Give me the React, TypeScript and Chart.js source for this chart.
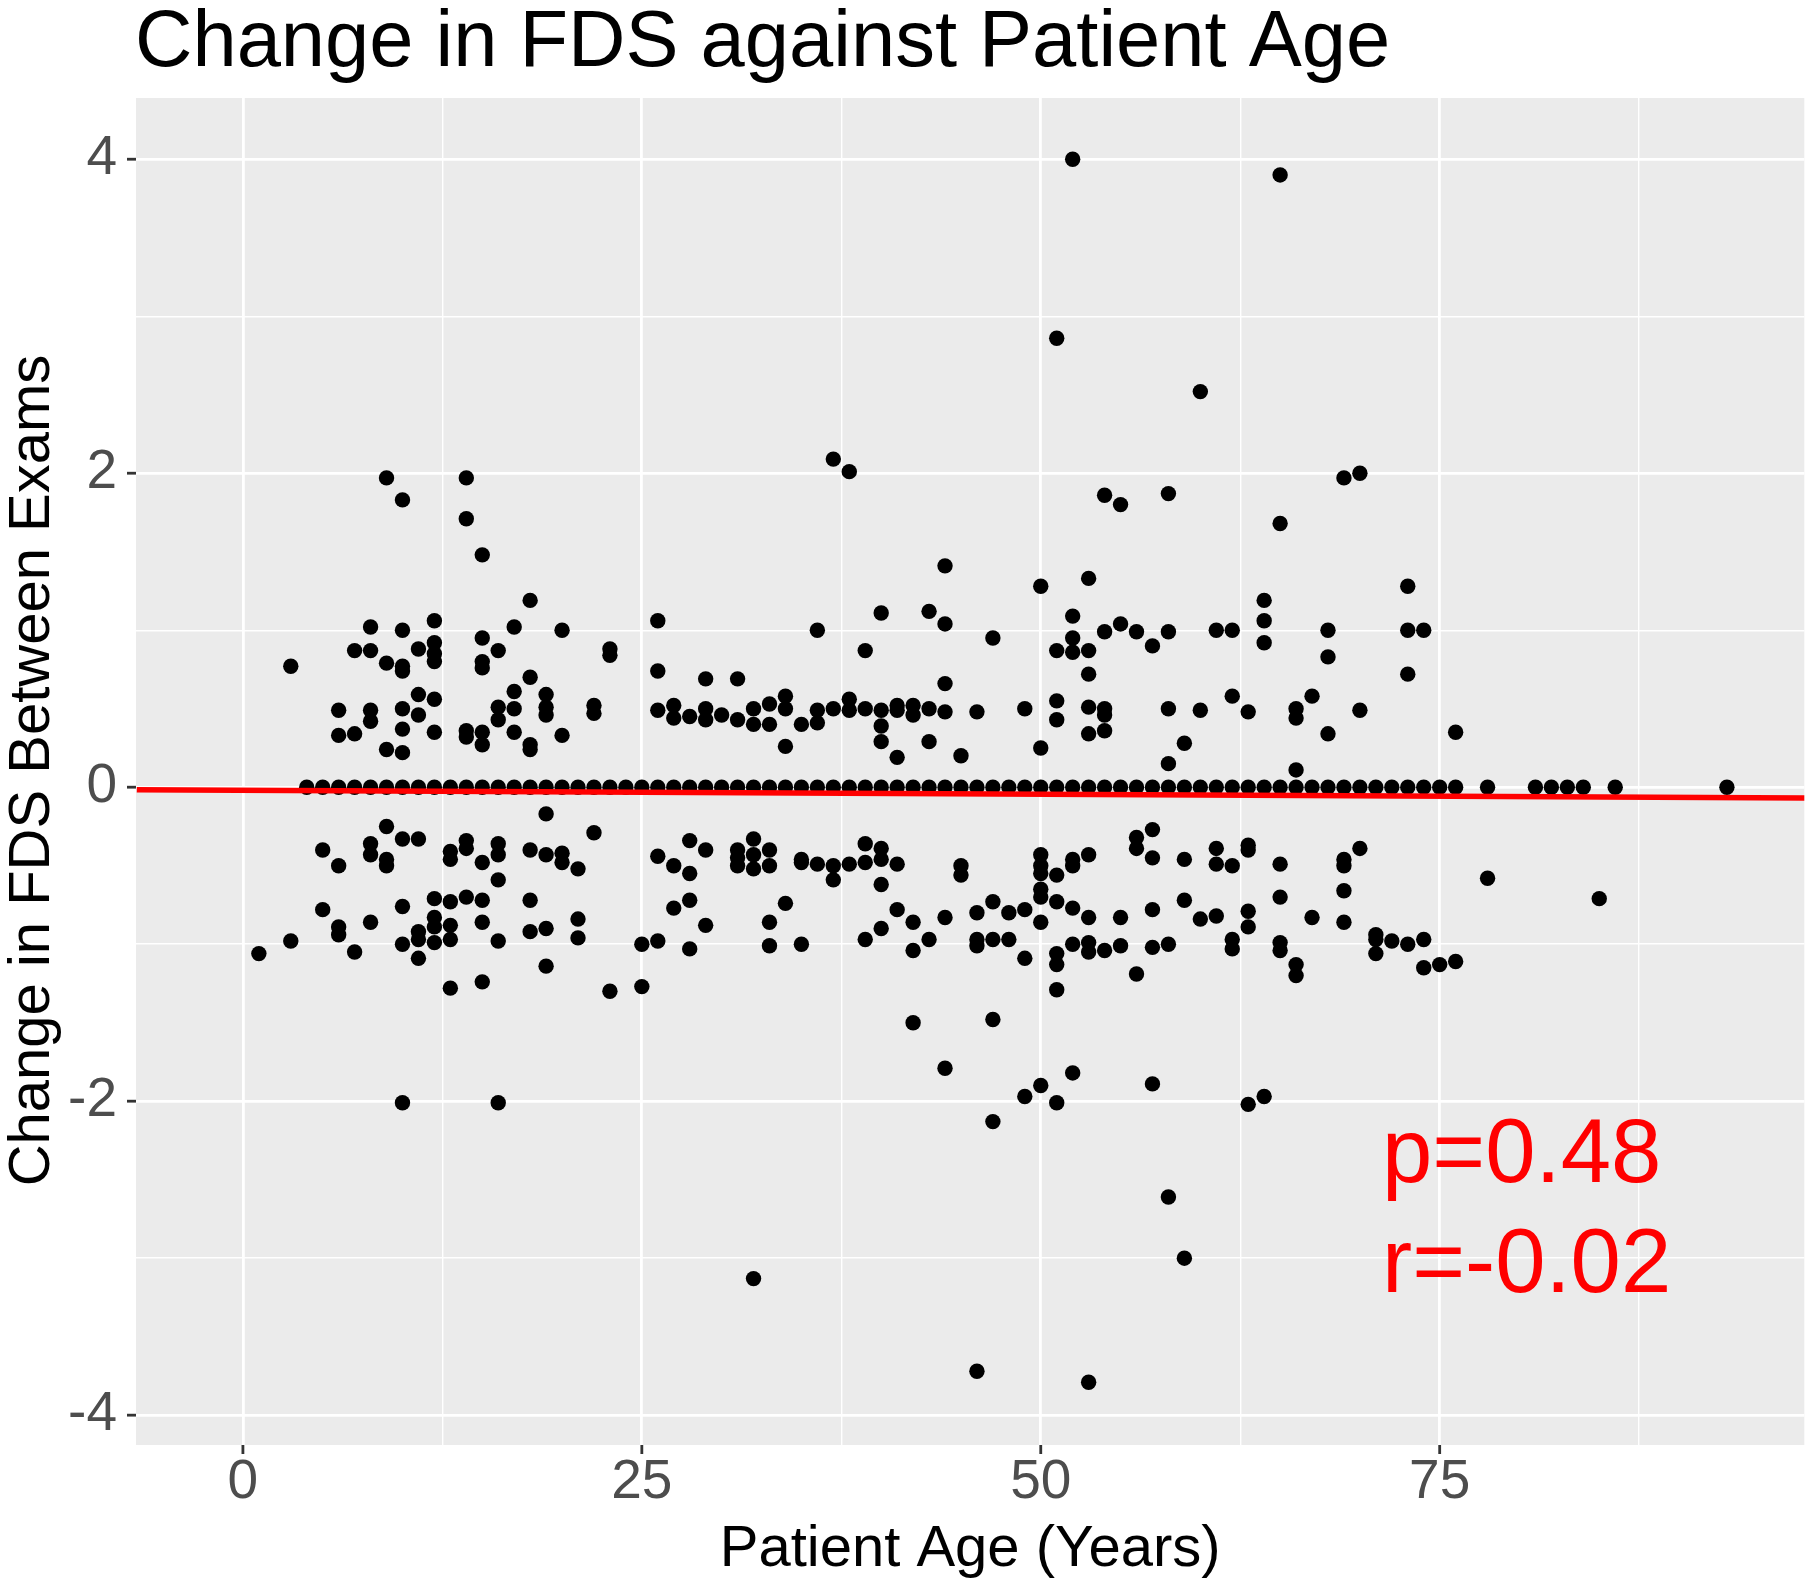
import React, { useEffect, useRef } from 'react';
import { Chart, registerables } from 'chart.js';

Chart.register(...registerables);

const FONT = '"Liberation Sans", Arial, Helvetica, sans-serif';

const chartTitle = 'Change in FDS against Patient Age';
const xAxisTitle = 'Patient Age (Years)';
const yAxisTitle = 'Change in FDS Between Exams';

const xGridTicks = [0, 12.5, 25, 37.5, 50, 62.5, 75, 87.5];
const xMajorTicks = [0, 25, 50, 75];
const xTickLabels = ['0', '25', '50', '75'];
const yGridTicks = [-4, -3, -2, -1, 0, 1, 2, 3, 4];
const yMajorTicks = [-4, -2, 0, 2, 4];
const yTickLabels = ['-4', '-2', '0', '2', '4'];

// ages with no change (points on the zero line)
const zeroAges = [
  4, 5, 6, 7, 8, 9, 10, 11, 12, 13, 14, 15, 16, 17, 18, 19, 20, 21, 22, 23, 24, 25,
  26, 27, 28, 29, 30, 31, 32, 33, 34, 35, 36, 37, 38, 39, 40, 41, 42, 43, 44, 45, 46,
  47, 48, 49, 50, 51, 52, 53, 54, 55, 56, 57, 58, 59, 60, 61, 62, 63, 64, 65, 66, 67,
  68, 69, 70, 71, 72, 73, 74, 75, 76, 78, 81, 82, 83, 84, 86, 93,
];

// [age, change] for increases
const positivePoints: [number, number][] = [
  [3, 0.77],
  [6, 0.49], [6, 0.33],
  [7, 0.87], [7, 0.34],
  [8, 1.02], [8, 0.87], [8, 0.49], [8, 0.42],
  [9, 1.97], [9, 0.79], [9, 0.24],
  [10, 1.83], [10, 1.0], [10, 0.77], [10, 0.74], [10, 0.5], [10, 0.37], [10, 0.22],
  [11, 0.88], [11, 0.59], [11, 0.46],
  [12, 1.06], [12, 0.92], [12, 0.85], [12, 0.8], [12, 0.56], [12, 0.35],
  [14, 1.97], [14, 1.71], [14, 0.36], [14, 0.32],
  [15, 1.48], [15, 0.95], [15, 0.8], [15, 0.76], [15, 0.35], [15, 0.27],
  [16, 0.87], [16, 0.51], [16, 0.43],
  [17, 1.02], [17, 0.61], [17, 0.5], [17, 0.35],
  [18, 1.19], [18, 0.7], [18, 0.27], [18, 0.24],
  [19, 0.59], [19, 0.51], [19, 0.46],
  [20, 1.0], [20, 0.33],
  [22, 0.52], [22, 0.47],
  [23, 0.88], [23, 0.84],
  [26, 1.06], [26, 0.74], [26, 0.49],
  [27, 0.52], [27, 0.44],
  [28, 0.45],
  [29, 0.69], [29, 0.5], [29, 0.43],
  [30, 0.46],
  [31, 0.69], [31, 0.43],
  [32, 0.5], [32, 0.4],
  [33, 0.53], [33, 0.4],
  [34, 0.58], [34, 0.5], [34, 0.26],
  [35, 0.4],
  [36, 1.0], [36, 0.49], [36, 0.41],
  [37, 2.09], [37, 0.5],
  [38, 2.01], [38, 0.56], [38, 0.49],
  [39, 0.87], [39, 0.5],
  [40, 1.11], [40, 0.49], [40, 0.39], [40, 0.29],
  [41, 0.52], [41, 0.49], [41, 0.19],
  [42, 0.52], [42, 0.46],
  [43, 1.12], [43, 0.5], [43, 0.29],
  [44, 1.41], [44, 1.04], [44, 0.66], [44, 0.48],
  [45, 0.2],
  [46, 0.48],
  [47, 0.95],
  [49, 0.5],
  [50, 1.28], [50, 0.25],
  [51, 2.86], [51, 0.87], [51, 0.55], [51, 0.43],
  [52, 4.0], [52, 1.09], [52, 0.95], [52, 0.86],
  [53, 1.33], [53, 0.87], [53, 0.72], [53, 0.51], [53, 0.34],
  [54, 1.86], [54, 0.99], [54, 0.5], [54, 0.46], [54, 0.36],
  [55, 1.8], [55, 1.04],
  [56, 0.99],
  [57, 0.9],
  [58, 1.87], [58, 0.99], [58, 0.5], [58, 0.15],
  [59, 0.28],
  [60, 2.52], [60, 0.49],
  [61, 1.0],
  [62, 1.0], [62, 0.58],
  [63, 0.48],
  [64, 1.19], [64, 1.06], [64, 0.92],
  [65, 3.9], [65, 1.68],
  [66, 0.5], [66, 0.44], [66, 0.11],
  [67, 0.58],
  [68, 1.0], [68, 0.83], [68, 0.34],
  [69, 1.97],
  [70, 2.0], [70, 0.49],
  [73, 1.28], [73, 1.0], [73, 0.72],
  [74, 1.0],
  [76, 0.35],
];

// [age, change] for decreases
const negativePoints: [number, number][] = [
  [1, -1.06],
  [3, -0.98],
  [5, -0.4], [5, -0.78],
  [6, -0.5], [6, -0.89], [6, -0.94],
  [7, -1.05],
  [8, -0.36], [8, -0.43], [8, -0.86],
  [9, -0.25], [9, -0.46], [9, -0.5],
  [10, -0.33], [10, -0.76], [10, -1.0], [10, -2.01],
  [11, -0.33], [11, -0.92], [11, -0.97], [11, -1.09],
  [12, -0.71], [12, -0.83], [12, -0.89], [12, -0.99],
  [13, -0.41], [13, -0.46], [13, -0.73], [13, -0.88], [13, -0.97], [13, -1.28],
  [14, -0.34], [14, -0.39], [14, -0.7],
  [15, -0.48], [15, -0.72], [15, -0.86], [15, -1.24],
  [16, -0.36], [16, -0.43], [16, -0.59], [16, -0.98], [16, -2.01],
  [18, -0.4], [18, -0.72], [18, -0.92],
  [19, -0.17], [19, -0.43], [19, -0.9], [19, -1.14],
  [20, -0.42], [20, -0.48],
  [21, -0.52], [21, -0.84], [21, -0.96],
  [22, -0.29],
  [23, -1.3],
  [25, -1.0], [25, -1.27],
  [26, -0.44], [26, -0.98],
  [27, -0.5], [27, -0.77],
  [28, -0.34], [28, -0.55], [28, -0.72], [28, -1.03],
  [29, -0.4], [29, -0.88],
  [31, -0.4], [31, -0.45], [31, -0.5],
  [32, -0.33], [32, -0.43], [32, -0.52], [32, -3.13],
  [33, -0.4], [33, -0.5], [33, -0.86], [33, -1.01],
  [34, -0.74],
  [35, -0.46], [35, -0.48], [35, -1.0],
  [36, -0.49],
  [37, -0.5], [37, -0.59],
  [38, -0.49],
  [39, -0.36], [39, -0.48], [39, -0.97],
  [40, -0.39], [40, -0.46], [40, -0.62], [40, -0.9],
  [41, -0.49], [41, -0.78],
  [42, -0.86], [42, -1.04], [42, -1.5],
  [43, -0.97],
  [44, -0.83], [44, -1.79],
  [45, -0.5], [45, -0.56],
  [46, -0.8], [46, -0.97], [46, -1.01], [46, -3.72],
  [47, -0.73], [47, -0.97], [47, -1.48], [47, -2.13],
  [48, -0.8], [48, -0.97],
  [49, -0.78], [49, -1.09], [49, -1.97],
  [50, -0.43], [50, -0.5], [50, -0.55], [50, -0.65], [50, -0.7], [50, -0.86], [50, -1.9],
  [51, -0.56], [51, -0.73], [51, -1.06], [51, -1.13], [51, -1.29], [51, -2.01],
  [52, -0.46], [52, -0.5], [52, -0.77], [52, -1.0], [52, -1.82],
  [53, -0.43], [53, -0.83], [53, -0.99], [53, -1.05], [53, -3.79],
  [54, -1.04],
  [55, -0.83], [55, -1.01],
  [56, -0.32], [56, -0.39], [56, -1.19],
  [57, -0.27], [57, -0.45], [57, -0.78], [57, -1.02], [57, -1.89],
  [58, -1.0], [58, -2.61],
  [59, -0.46], [59, -0.72], [59, -3.0],
  [60, -0.84],
  [61, -0.39], [61, -0.49], [61, -0.82],
  [62, -0.5], [62, -0.97], [62, -1.03],
  [63, -0.37], [63, -0.4], [63, -0.79], [63, -0.89], [63, -2.02],
  [64, -1.97],
  [65, -0.49], [65, -0.7], [65, -0.99], [65, -1.04],
  [66, -1.13], [66, -1.2],
  [67, -0.83],
  [69, -0.46], [69, -0.5], [69, -0.66], [69, -0.86],
  [70, -0.39],
  [71, -0.94], [71, -0.97], [71, -1.06],
  [72, -0.98],
  [73, -1.0],
  [74, -0.97], [74, -1.15],
  [75, -1.13],
  [76, -1.11],
  [78, -0.58],
  [85, -0.71],
];

// fitted regression line end points
const fitAges = [-6.65, 97.9];
const fitChanges = [-0.017, -0.069];

const statLabels = ['p=0.48', 'r=-0.02'];

// layout (pixels)
const W = 1812;
const H = 1582;
const AREA = { left: 136, right: 1809, top: 98, bottom: 1445 };
const X_MIN = -6.7;
const X_MAX = 97.85;
const Y_MIN = -4.19;
const Y_MAX = 4.39;
const STAT_X = 1382;
const STAT_BASELINES = [1182, 1292];

const decorPlugin = {
  id: 'decor',
  beforeDraw(chart: any) {
    const { ctx, chartArea: a } = chart;
    ctx.save();
    ctx.fillStyle = '#FFFFFF';
    ctx.fillRect(0, 0, chart.width, chart.height);
    ctx.fillStyle = '#EBEBEB';
    ctx.fillRect(a.left, a.top, a.right - a.left, a.bottom - a.top);
    ctx.restore();
  },
  afterDraw(chart: any) {
    const { ctx, chartArea: a, scales } = chart;
    const xs = scales.x;
    const ys = scales.y;
    ctx.save();
    ctx.strokeStyle = '#333333';
    ctx.lineWidth = 2.8;
    xMajorTicks.forEach((v) => {
      const px = xs.getPixelForValue(v);
      ctx.beginPath();
      ctx.moveTo(px, a.bottom);
      ctx.lineTo(px, a.bottom + 9);
      ctx.stroke();
    });
    yMajorTicks.forEach((v) => {
      const py = ys.getPixelForValue(v);
      ctx.beginPath();
      ctx.moveTo(a.left - 9, py);
      ctx.lineTo(a.left, py);
      ctx.stroke();
    });

    ctx.fillStyle = '#000000';
    ctx.textBaseline = 'alphabetic';
    ctx.textAlign = 'left';
    ctx.font = `79.5px ${FONT}`;
    ctx.fillText(chartTitle, a.left - 1, 66);

    ctx.font = `58px ${FONT}`;
    ctx.textAlign = 'center';
    ctx.fillText(xAxisTitle, (a.left + a.right) / 2, 1566);

    ctx.save();
    ctx.translate(49, (a.top + a.bottom) / 2 - 1);
    ctx.rotate(-Math.PI / 2);
    ctx.fillText(yAxisTitle, 0, 0);
    ctx.restore();

    ctx.fillStyle = '#FF0000';
    ctx.textAlign = 'left';
    ctx.font = `90.5px ${FONT}`;
    statLabels.forEach((t, i) => {
      ctx.fillText(t, STAT_X, STAT_BASELINES[i]);
    });
    ctx.restore();
  },
};

export default function App() {
  const ref = useRef<HTMLCanvasElement | null>(null);

  useEffect(() => {
    document.body.style.margin = '0';
    const canvas = ref.current;
    if (!canvas) return;

    const scatterData = [
      ...zeroAges.map((a) => ({ x: a, y: 0 })),
      ...positivePoints.map(([a, c]) => ({ x: a, y: c })),
      ...negativePoints.map(([a, c]) => ({ x: a, y: c })),
    ];
    const fitData = fitAges.map((a, i) => ({ x: a, y: fitChanges[i] }));

    const chart = new Chart(canvas, {
      type: 'scatter',
      data: {
        datasets: [
          {
            type: 'line',
            label: 'fit',
            data: fitData,
            borderColor: '#FF0000',
            borderWidth: 5.5,
            pointRadius: 0,
            fill: false,
            order: 0,
          } as any,
          {
            type: 'scatter',
            label: 'points',
            data: scatterData,
            backgroundColor: '#000000',
            borderWidth: 0,
            pointRadius: 7.7,
            pointHoverRadius: 7.7,
            order: 1,
          } as any,
        ],
      },
      options: {
        responsive: false,
        animation: false,
        devicePixelRatio: 1,
        layout: {
          padding: { left: 0, right: W - AREA.right, top: AREA.top, bottom: 0 },
        },
        plugins: {
          legend: { display: false },
          tooltip: { enabled: false },
          title: { display: false },
        },
        scales: {
          x: {
            type: 'linear',
            min: X_MIN,
            max: X_MAX,
            afterBuildTicks: (scale: any) => {
              scale.ticks = xGridTicks.map((v) => ({ value: v }));
            },
            afterFit: (scale: any) => {
              scale.height = H - AREA.bottom;
            },
            border: { display: false },
            grid: {
              color: '#FFFFFF',
              drawTicks: false,
              lineWidth: (ctx: any) =>
                xMajorTicks.includes(ctx.tick?.value) ? 2.8 : 1.4,
            },
            ticks: {
              autoSkip: false,
              maxRotation: 0,
              minRotation: 0,
              padding: 5,
              color: '#4D4D4D',
              font: { family: FONT, size: 55 },
              callback: (value: any) => {
                const i = xMajorTicks.indexOf(Number(value));
                return i >= 0 ? xTickLabels[i] : '';
              },
            },
          },
          y: {
            type: 'linear',
            min: Y_MIN,
            max: Y_MAX,
            afterBuildTicks: (scale: any) => {
              scale.ticks = yGridTicks.map((v) => ({ value: v }));
            },
            afterFit: (scale: any) => {
              scale.width = AREA.left;
            },
            border: { display: false },
            grid: {
              color: '#FFFFFF',
              drawTicks: false,
              lineWidth: (ctx: any) =>
                yMajorTicks.includes(ctx.tick?.value) ? 2.8 : 1.4,
            },
            ticks: {
              autoSkip: false,
              padding: 19,
              color: '#4D4D4D',
              font: { family: FONT, size: 55 },
              callback: (value: any) => {
                const i = yMajorTicks.indexOf(Number(value));
                return i >= 0 ? yTickLabels[i] : '';
              },
            },
          },
        },
      } as any,
      plugins: [decorPlugin],
    });

    return () => {
      chart.destroy();
    };
  }, []);

  return (
    <div style={{ position: 'absolute', left: 0, top: 0, width: W, height: H }}>
      <canvas ref={ref} width={W} height={H} style={{ width: W, height: H, display: 'block' }} />
    </div>
  );
}
